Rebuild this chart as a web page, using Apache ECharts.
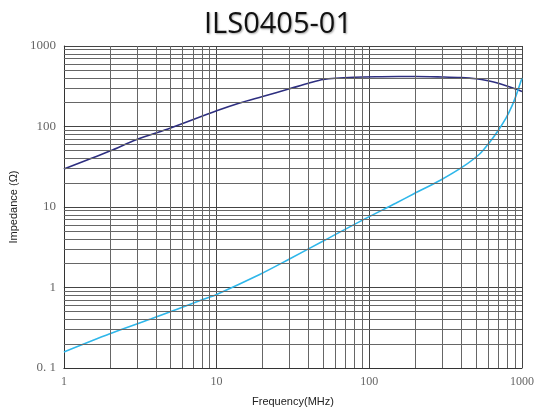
<!DOCTYPE html>
<html>
<head>
<meta charset="utf-8">
<script src="https://cdn.jsdelivr.net/npm/echarts@6/dist/echarts.min.js"></script>
<style>html,body{margin:0;padding:0;background:#fff}#c{width:537px;height:412px}</style>
</head>
<body>
<div id="c"></div>
<script>
const titleText = 'ILS0405-01';
const xName = 'Frequency(MHz)';
const yName = 'Impedance (Ω)';
const freqNavy = [1, 2, 3, 5, 10, 14, 20, 30, 40, 50, 80, 120, 200, 300, 400, 500, 600, 700, 900, 1000];
const impNavy  = [29.6, 49.5, 69, 96, 157, 195, 236, 294, 345, 384, 409, 415, 418, 412, 405, 392, 370, 345, 295, 273];
const freqCyan = [1, 2, 3.7, 8.2, 10, 19, 30, 51, 89, 150, 196, 292, 413, 528, 611, 700, 787, 860, 913, 1000];
const impCyan  = [0.158, 0.266, 0.405, 0.713, 0.82, 1.44, 2.26, 3.86, 6.78, 11.2, 14.6, 21.5, 31.9, 45.5, 63, 90, 128, 180, 240, 400];
const xMinorGrid = [2,3,4,5,6,7,8,9,20,30,40,50,60,70,80,90,200,300,400,500,600,700,800,900];
const yMinorGrid = [0.2,0.3,0.4,0.5,0.6,0.7,0.8,0.9,2,3,4,5,6,7,8,9,20,30,40,50,60,70,80,90,200,300,400,500,600,700,800,900];
const yLabelMap = {'0.1': '0. 1', '1': '1', '10': '10', '100': '100', '1000': '1000'};

const chart = echarts.init(document.getElementById('c'));
const gridLine = {color: '#444', width: 1, type: 'solid'};
const minorLine = {color: '#666', width: 1, type: 'solid'};
chart.setOption({
  animation: false,
  title: {
    text: titleText, left: 199, top: 5,
    textStyle: {fontFamily: 'Open Sans', fontSize: 29, fontWeight: 'normal', color: '#111',
      textShadowColor: 'rgba(0,0,0,0.35)', textShadowBlur: 2, textShadowOffsetX: 1, textShadowOffsetY: 1}
  },
  grid: {left: 62, right: 11, top: 46, bottom: 39, containLabel: false},
  xAxis: {
    type: 'log', logBase: 10, min: 1, max: 1000,
    name: xName, nameLocation: 'middle', nameGap: 28,
    nameTextStyle: {fontFamily: 'Liberation Sans', fontSize: 11, color: '#222'},
    axisLine: {show: true, lineStyle: {color: '#333'}},
    axisTick: {show: false},
    axisLabel: {fontFamily: 'Liberation Serif', fontSize: 12, color: '#666', margin: 8,
      formatter: v => String(Math.round(v))},
    splitLine: {show: true, lineStyle: gridLine}
  },
  yAxis: {
    type: 'log', logBase: 10, min: 0.1, max: 1000,
    name: yName, nameLocation: 'middle', nameGap: 40, nameRotate: 90,
    nameTextStyle: {fontFamily: 'Liberation Sans', fontSize: 11, color: '#222'},
    axisLine: {show: true, lineStyle: {color: '#333'}},
    axisTick: {show: false},
    axisLabel: {fontFamily: 'Liberation Serif', fontSize: 13, color: '#666', margin: 8,
      formatter: v => yLabelMap[String(+v.toPrecision(3))] || String(v)},
    splitLine: {show: true, lineStyle: gridLine}
  },
  series: [
    {
      type: 'line', data: [], silent: true,
      markLine: {
        silent: true, symbol: 'none', animation: false,
        label: {show: false},
        lineStyle: minorLine,
        data: xMinorGrid.map(v => ({xAxis: v})).concat(yMinorGrid.map(v => ({yAxis: v})))
      }
    },
    {
      type: 'line', showSymbol: false, smooth: 0.3,
      data: freqNavy.map((f, i) => [f, impNavy[i]]),
      lineStyle: {color: '#2e2f80', width: 1.6}, itemStyle: {color: '#2e2f80'}
    },
    {
      type: 'line', showSymbol: false, smooth: 0.3,
      data: freqCyan.map((f, i) => [f, impCyan[i]]),
      lineStyle: {color: '#2fb7ea', width: 1.6}, itemStyle: {color: '#2fb7ea'}
    }
  ]
});
</script>
</body>
</html>
